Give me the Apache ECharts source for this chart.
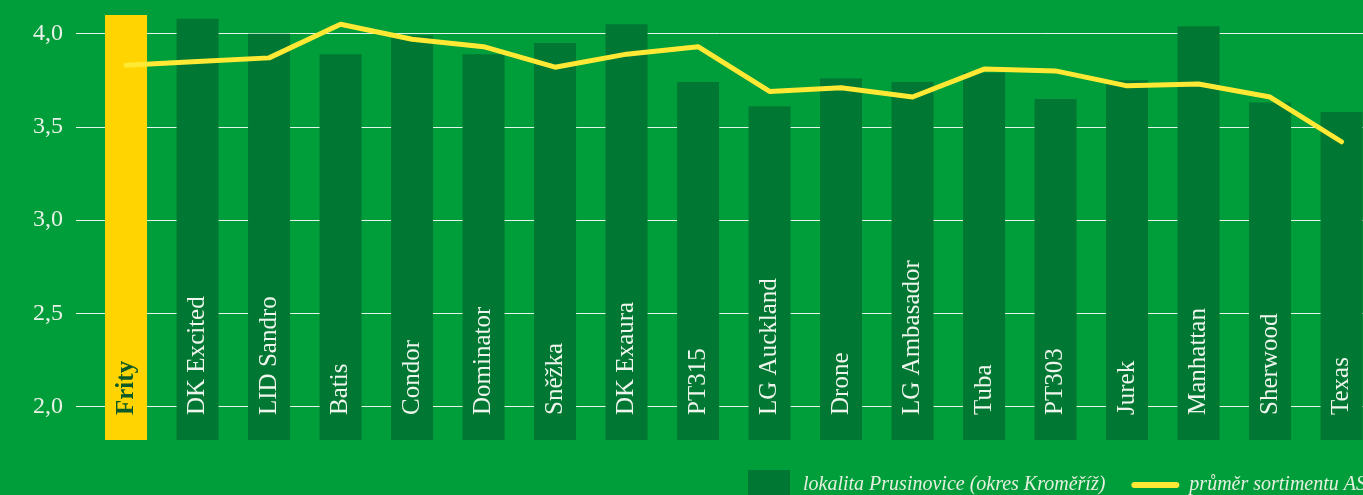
<!DOCTYPE html>
<html>
<head>
<meta charset="utf-8">
<script src="https://cdn.jsdelivr.net/npm/echarts@6/dist/echarts.min.js"></script>
<style>
  html, body { margin: 0; padding: 0; background: #009d3b; }
  #chart { width: 1363px; height: 495px; }
</style>
</head>
<body>
<div id="chart"></div>
<script>
// odrůdy
var categories = ['Frity', 'DK Excited', 'LID Sandro', 'Batis', 'Condor', 'Dominator', 'Sněžka', 'DK Exaura',
  'PT315', 'LG Auckland', 'Drone', 'LG Ambasador', 'Tuba', 'PT303', 'Jurek', 'Manhattan', 'Sherwood', 'Texas'];
// lokalita Prusinovice
var localValues = [4.10, 4.08, 4.00, 3.89, 3.99, 3.89, 3.95, 4.05, 3.74, 3.61, 3.76, 3.74, 3.79, 3.65, 3.75, 4.04, 3.63, 3.58];
// průměr sortimentu
var avgValues = [3.83, 3.85, 3.87, 4.05, 3.97, 3.93, 3.82, 3.89, 3.93, 3.69, 3.71, 3.66, 3.81, 3.80, 3.72, 3.73, 3.66, 3.42];
var yTicks = [2.0, 2.5, 3.0, 3.5, 4.0];

var seriesNames = ['lokalita Prusinovice (okres Kroměříž)', 'průměr sortimentu ASZ'];
var font = '"Liberation Serif", "DejaVu Serif", serif';

var barData = localValues.map(function (v, i) {
  var item = { value: [i, v] };
  // zvýrazněná odrůda
  if (i === 0) {
    item.itemStyle = { color: '#ffd400' };
    item.label = { color: '#0b5a28', fontWeight: 'bold' };
  }
  return item;
});
var lineData = avgValues.map(function (v, i) { return [i, v]; });

var chart = echarts.init(document.getElementById('chart'));
chart.setOption({
  backgroundColor: '#009d3b',
  animation: false,
  grid: { left: 76, right: 0, top: 15, bottom: 55 },
  legend: {
    left: 748,
    top: 470,
    width: 1200,
    padding: 0,
    itemWidth: 42,
    itemHeight: 30,
    itemGap: 26,
    textStyle: { color: '#e6f0e0', fontFamily: font, fontStyle: 'italic', fontSize: 20, padding: [0, 0, 0, 8] },
    data: [
      { name: seriesNames[0], icon: 'rect' },
      { name: seriesNames[1], itemStyle: { opacity: 0 }, lineStyle: { width: 6, cap: 'round' } }
    ]
  },
  xAxis: {
    type: 'value',
    min: -0.7,
    max: 17.3,
    show: false,
    splitLine: { show: false }
  },
  yAxis: {
    type: 'value',
    min: 1.82,
    max: 4.1,
    axisLine: { show: false },
    axisTick: { show: false, customValues: yTicks },
    axisLabel: {
      customValues: yTicks,
      color: '#e8f2e6',
      fontFamily: font,
      fontSize: 24,
      margin: 13,
      formatter: function (v) { return v.toFixed(1).replace('.', ','); }
    },
    splitLine: { show: true, lineStyle: { color: 'rgba(255,255,255,0.9)', width: 1 } }
  },
  series: [{
    name: seriesNames[0],
    type: 'bar',
    barWidth: 42,
    itemStyle: { color: '#007833' },
    label: {
      show: true,
      position: 'insideBottom',
      rotate: 90,
      align: 'left',
      verticalAlign: 'middle',
      distance: 25,
      color: '#eef5ec',
      fontFamily: font,
      fontSize: 25,
      formatter: function (p) { return categories[p.value[0]]; }
    },
    data: barData
  }, {
    name: seriesNames[1],
    type: 'line',
    symbol: 'none',
    clip: false,
    z: 3,
    color: '#ffe935',
    lineStyle: { color: '#ffe935', width: 5, cap: 'round', join: 'round' },
    data: lineData
  }]
});
</script>
</body>
</html>
